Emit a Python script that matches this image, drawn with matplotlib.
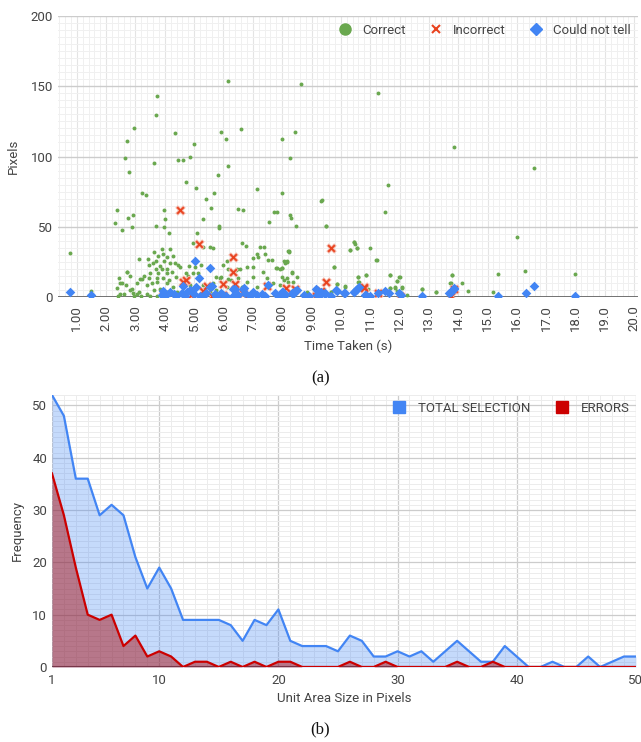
import matplotlib
matplotlib.use("Agg")
import matplotlib.pyplot as plt
from matplotlib.lines import Line2D
import numpy as np

plt.rcParams["font.family"] = ["Roboto", "DejaVu Sans"]

# ---- (a) scatter data: time taken (s) vs pixels ----
correct_x = [0.77, 2.96, 2.72, 2.65, 2.79, 2.37, 2.31, 2.53, 2.76, 2.93, 2.88, 3.21, 3.36, 3.64,
             4.35, 4.46, 4.61, 4.86, 5.0, 4.71, 5.05, 5.39, 5.68, 5.59, 5.81, 5.91, 6.1, 6.16,
             6.6, 6.5, 6.67, 7.15, 7.56, 7.73, 7.84, 8.0, 8.44, 8.28, 7.98, 8.26, 8.29, 8.47,
             9.35, 9.49, 3.98, 4.0, 3.69, 3.98, 4.13, 5.3, 5.84, 5.84, 5.08, 4.96, 10.45, 10.47,
             10.3, 10.56, 11.0, 11.22, 9.75, 13.85, 16.57, 11.6, 11.5, 16.02, 16.29, 17.97, 15.34,
             15.17, 13.78, 13.73, 14.14, 14.32, 13.24, 12.75, 12.25, 12.08, 11.98, 11.66, 11.91,
             11.84, 11.66, 10.86, 10.6, 10.61, 10.93, 10.13, 9.87, 9.68, 11.93,
             6.15, 8.64, 3.74, 11.26, 3.70,
             3.90, 4.18, 3.64, 3.93, 3.76, 4.09, 4.27, 3.42, 3.11, 3.70, 3.97, 3.59, 4.18, 4.36,
             4.46, 3.47, 3.84, 3.70, 3.89, 4.06, 4.52, 4.83, 3.50, 3.78, 4.06, 4.23, 4.72, 3.30,
             3.45, 3.21, 3.72, 3.95, 4.15, 4.38, 4.78, 2.72, 2.43, 2.81, 3.04, 2.68, 3.38, 3.55,
             3.72, 4.06, 4.29, 3.13, 2.87, 2.38, 2.53, 3.63, 3.84, 4.06, 4.40, 4.86, 5.03, 5.25,
             4.97, 5.14, 5.31, 5.65, 5.88, 5.76, 4.86, 5.54, 4.52, 3.38, 2.93, 2.47,
             6.62, 6.75, 7.26, 7.38, 7.01, 7.18, 7.67, 7.78, 8.06, 8.20, 7.98, 7.92, 7.35, 7.01,
             7.47, 8.15, 6.56, 6.47, 6.11, 6.16, 5.76, 6.25, 6.50, 6.79, 7.13, 7.69, 8.37, 7.92,
             6.62, 6.11, 5.31, 5.54, 5.65,
             8.23, 8.17, 8.09, 7.98, 8.34, 8.49, 8.01, 8.20, 9.76, 10.30, 10.56, 11.21, 10.44,
             10.60, 10.87, 10.60, 11.66, 11.91, 12.0, 12.1, 11.86, 11.66, 9.87, 10.13, 8.83,
             9.68, 12.76, 13.25, 13.79, 13.74, 9.34, 9.49,
             5.97, 6.44, 5.93, 6.14, 6.79, 7.01, 7.15, 7.43, 7.53, 7.84, 8.17, 8.24, 8.34, 8.07,
             2.42, 2.47, 2.72, 2.81, 3.04, 3.15, 1.48, 3.2, 3.5, 3.75, 2.6, 2.95]
correct_y = [31.5, 120.6, 110.7, 98.6, 88.7, 61.6, 52.6, 47.4, 56.4, 58.5, 49.5, 73.9, 72.5, 95.5,
             116.4, 97.4, 97.4, 99.5, 108.6, 81.8, 77.3, 69.5, 73.7, 63.5, 86.5, 117.8, 112.6, 93.6,
             119.4, 62.4, 61.9, 76.6, 53.5, 60.4, 60.4, 112.6, 117.5, 98.6, 73.7, 58.3, 56.4, 50.5,
             68.8, 50.5, 61.9, 55.5, 50.5, 49.5, 45.7, 55.5, 50.5, 48.8, 45.3, 38.6, 39.3, 38.0,
             33.4, 34.6, 34.6, 26.5, 21.5, 106.6, 91.5, 79.6, 60.4, 42.7, 18.5, 16.6, 16.6,
             3.6, 15.4, 9.7, 9.7, 4.5, 3.6, 5.5, 1.7, 6.6, 14.4, 15.4, 11.4,
             6.6, 6.6, 15.4, 14.4, 10.5, 5.5, 7.6, 9.5, 3.6, 4.5,
             153.6, 151.5, 143.0, 145.0, 129.4,
             33.9, 33.9, 32.2, 30.3, 29.1, 28.7, 29.1, 26.8, 26.8, 25.6, 25.6, 24.4, 23.9, 23.9,
             22.7, 22.7, 22.0, 19.7, 19.7, 19.7, 21.1, 22.0, 16.8, 17.3, 17.3, 18.0, 17.3, 14.9,
             13.7, 13.0, 13.3, 13.3, 12.1, 14.4, 14.9, 17.8, 13.7, 14.9, 9.7, 8.5, 8.5, 9.7,
             10.9, 9.7, 7.3, 3.8, 5.4, 6.6, 10.2, 5.0, 5.4, 3.8, 3.8, 8.5, 21.6, 22.7,
             16.8, 17.3, 8.5, 9.7, 13.3, 5.0, 3.8, 3.8, 2.6, 2.1, 2.6, 1.9,
             38.6, 36.2, 35.3, 35.3, 27.5, 28.2, 26.3, 20.4, 25.6, 32.7, 20.4, 19.7, 18.0, 14.4,
             13.7, 13.3, 19.7, 19.7, 25.8, 19.7, 14.4, 12.1, 13.3, 10.9, 7.3, 10.2, 10.9, 8.5,
             7.3, 7.3, 35.8, 35.3, 35.0,
             32.5, 25.8, 23.9, 20.4, 17.8, 14.5, 14.5, 10.9, 21.6, 33.4, 34.6, 26.3, 38.9,
             14.5, 15.6, 10.7, 15.6, 11.6, 14.5, 6.9, 6.9, 6.2, 9.3, 7.4, 3.3,
             3.8, 5.7, 3.3, 15.6, 9.7, 68.5, 50.7,
             22.7, 19.2, 14.4, 12.5, 21.5, 21.5, 30.5, 30.5, 26.7, 21.0, 25.1, 32.2, 16.8, 12.0,
             0.7, 9.7, 17.6, 5.0, 2.1, 12.7, 4.5, 0.5, 1.0, 0.6, 2.5, 0.8]

incorrect_x = [4.53, 5.17, 6.33, 6.33, 9.68, 9.49, 4.71, 4.63, 5.43, 5.29, 5.97, 6.39, 6.67, 7.47,
               8.12, 8.45, 9.15, 9.34, 10.79, 11.28, 12.0, 13.74, 13.85, 10.78, 3.95, 4.9, 5.6,
               6.0, 6.8]
incorrect_y = [61.6, 37.5, 28.7, 17.5, 34.6, 10.5, 12.1, 10.5, 7.6, 4.5, 9.5, 9.5, 2.6, 7.6,
               6.6, 5.5, 0.7, 4.5, 6.6, 2.6, 0.7, 0.7, 5.5, 6.9, 0.8, 1.5, 0.8,
               1.2, 0.6]

unsure_x = [0.77, 1.48, 5.03, 5.53, 5.17, 4.61, 5.6, 7.53, 6.67, 6.33, 8.0, 8.45, 9.15, 9.87,
            10.12, 10.45, 10.6, 16.58, 16.3, 15.35, 17.97, 13.85, 13.76, 13.7, 12.75, 12.05,
            11.97, 11.64, 11.5, 11.28, 11.0, 10.85, 10.46, 10.13, 9.68, 9.45, 9.34,
            3.89, 4.18, 4.57, 4.77, 4.86, 5.06, 5.2, 5.4, 5.54, 5.71, 5.99, 6.39, 6.33, 6.69,
            6.73, 7.01, 7.13, 7.41, 7.75, 8.03, 8.32, 8.49, 4.38, 5.76,
            9.17, 9.34, 9.45, 9.17, 9.85, 10.51, 10.62, 10.81, 8.09, 8.37, 8.74, 13.84,
            4.0, 4.3, 4.7, 5.0, 5.3, 5.9, 6.1, 6.5, 6.9, 7.3, 7.9, 8.9, 3.95]
unsure_y = [3.6, 1.7, 25.4, 20.6, 13.5, 7.6, 7.6, 8.5, 5.5, 5.5, 3.6, 4.5, 5.5, 4.5,
            2.6, 3.6, 6.6, 7.6, 2.6, 0.7, 0.7, 5.5, 3.6, 2.6, 0.7, 1.7,
            2.6, 2.6, 4.5, 2.6, 0.7, 1.7, 3.6, 2.6, 0.7, 2.6, 3.6,
            1.4, 3.8, 2.6, 3.8, 5.0, 6.9, 0.9, 2.6, 7.3, 2.1, 1.4, 5.4, 0.9, 6.1,
            2.6, 3.8, 1.4, 0.9, 2.6, 3.8, 2.6, 5.0, 0.9, 0.9,
            5.0, 2.5, 1.9, 1.5, 5.0, 5.0, 6.9, 1.5, 1.5, 1.8, 1.5, 6.6,
            0.5, 1.8, 0.6, 1.8, 0.5, 3.2, 0.4, 1.5, 0.5, 1.8, 0.6, 1.0, 4.0]

time_ticks = list(range(1, 21))
time_labels = ["1.00", "2.00", "3.00", "4.00", "5.00", "6.00", "7.00", "8.00", "9.00", "10.0",
               "11.0", "12.0", "13.0", "14.0", "15.0", "16.0", "17.0", "18.0", "19.0", "20.0"]

# ---- (b) frequency by unit area size ----
unit_size = list(range(1, 51))
total_selection = [52, 48, 36, 36, 29, 31, 29, 21, 15, 19, 15, 9, 9, 9, 9, 8, 5, 9, 8, 11,
                   5, 4, 4, 4, 3, 6, 5, 2, 2, 3, 2, 3, 1, 3, 5, 3, 1, 1, 4, 2,
                   0, 0, 1, 0, 0, 2, 0, 1, 2, 2]
errors = [37, 29, 19, 10, 9, 10, 4, 6, 2, 3, 2, 0, 1, 1, 0, 1, 0, 1, 0, 1,
          1, 0, 0, 0, 0, 1, 0, 0, 1, 0, 0, 0, 0, 0, 1, 0, 0, 1, 0, 0,
          0, 0, 0, 0, 0, 0, 0, 0, 0, 0]

GREEN = "#6aa84f"
RED = "#e8431f"
BLUE = "#4285f4"
TXT = "#444444"

fig = plt.figure(figsize=(6.41, 7.42), dpi=100)

# ================= (a) =================
ax1 = fig.add_axes([0.0905, 0.5997, 0.9045, 0.3787])
ax1.set_xlim(0.36, 20.12)
ax1.set_ylim(0, 200)
ax1.set_xticks(time_ticks)
ax1.set_xticklabels(time_labels, rotation=90)
ax1.set_xticks(np.arange(0.4, 20.1, 0.2), minor=True)
ax1.set_yticks([0, 50, 100, 150, 200])
ax1.set_yticks(np.arange(0, 201, 5), minor=True)
ax1.grid(which="minor", color="#f0f0f0", linewidth=0.7)
ax1.grid(which="major", axis="x", color="#e4e4e4", linewidth=0.8)
ax1.grid(which="major", axis="y", color="#cccccc", linewidth=1.0)
ax1.set_axisbelow(True)
for s in ax1.spines.values():
    s.set_visible(False)
ax1.tick_params(which="both", length=0, colors=TXT, labelsize=9.5)
ax1.tick_params(axis="x", pad=6)
ax1.axhline(0, color="#666666", linewidth=2, zorder=2)

ax1.scatter(correct_x, correct_y, s=8, color=GREEN, linewidths=0, zorder=3)
ax1.scatter(incorrect_x, incorrect_y, s=32, marker="x", color="#f5b3a5", linewidths=2.6, zorder=4)
ax1.scatter(incorrect_x, incorrect_y, s=22, marker="x", color=RED, linewidths=1.3, zorder=4)
ax1.scatter(unsure_x, unsure_y, s=24, marker="D", color=BLUE, linewidths=0, zorder=5)

ax1.set_xlabel("Time Taken (s)", color=TXT, fontsize=9.5, labelpad=6)
ax1.set_ylabel("Pixels", color=TXT, fontsize=9.5, labelpad=8)

h1 = [Line2D([], [], marker="o", color=GREEN, linestyle="", markersize=8),
      Line2D([], [], marker="x", color=RED, linestyle="", markersize=6, markeredgewidth=1.5),
      Line2D([], [], marker="D", color=BLUE, linestyle="", markersize=6)]
leg1 = ax1.legend(h1, ["Correct", "Incorrect", "Could not tell"], loc="upper right", ncol=3,
                  frameon=False, fontsize=9.5, handletextpad=0.3, columnspacing=1.3,
                  borderaxespad=0.1, bbox_to_anchor=(1.0, 0.995))
for t in leg1.get_texts():
    t.set_color(TXT)

fig.text(0.5, 0.4906, "(a)", ha="center", va="center", fontsize=12,
         family="Liberation Serif", color="#111111")

# ================= (b) =================
ax2 = fig.add_axes([0.0811, 0.1011, 0.9109, 0.3666])
ax2.set_xlim(1, 50)
ax2.set_ylim(0, 52)
ax2.set_xticks([1, 10, 20, 30, 40, 50])
ax2.set_xticks(unit_size, minor=True)
ax2.set_yticks([0, 10, 20, 30, 40, 50])
ax2.set_yticks(np.arange(0, 53, 1), minor=True)
ax2.grid(which="minor", color="#ececec", linewidth=0.7)
ax2.grid(which="major", color="#cccccc", linewidth=0.9)
ax2.set_axisbelow(True)
for s in ax2.spines.values():
    s.set_visible(False)
ax2.tick_params(which="both", length=0, colors=TXT, labelsize=9.5)
ax2.tick_params(axis="x", pad=5)
ax2.axhline(0, color="#555555", linewidth=1.5, zorder=1)

ax2.fill_between(unit_size, total_selection, color=BLUE, alpha=0.3, linewidth=0, zorder=2)
ax2.fill_between(unit_size, errors, color="#a80000", alpha=0.45, linewidth=0, zorder=3)
ax2.plot(unit_size, total_selection, color=BLUE, linewidth=1.6, zorder=4)
ax2.plot(unit_size, errors, color="#cc0000", linewidth=1.6, zorder=5)

ax2.set_xlabel("Unit Area Size in Pixels", color=TXT, fontsize=9.5, labelpad=4)
ax2.set_ylabel("Frequency", color=TXT, fontsize=9.5, labelpad=6)

h2 = [Line2D([], [], marker="s", color=BLUE, linestyle="", markersize=9),
      Line2D([], [], marker="s", color="#cc0000", linestyle="", markersize=9)]
leg2 = ax2.legend(h2, ["TOTAL SELECTION", "ERRORS"], loc="upper right", ncol=2, frameon=False,
                  fontsize=9.5, handletextpad=0.4, columnspacing=1.4, borderaxespad=0.1,
                  bbox_to_anchor=(1.0, 1.0))
for t in leg2.get_texts():
    t.set_color(TXT)

fig.text(0.5, 0.0175, "(b)", ha="center", va="center", fontsize=12,
         family="Liberation Serif", color="#111111")

fig.savefig("out.png", dpi=100)
